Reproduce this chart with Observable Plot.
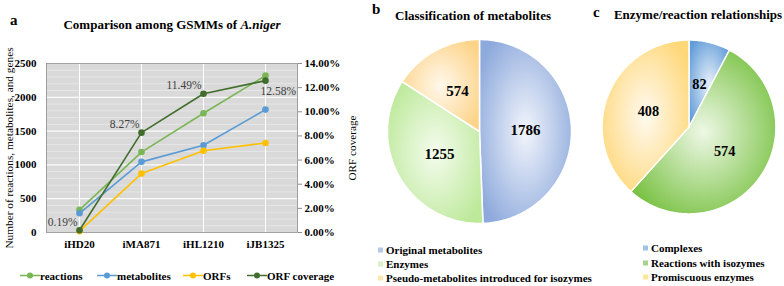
<!DOCTYPE html>
<html><head><meta charset="utf-8">
<script src="https://cdn.jsdelivr.net/npm/d3@7"></script>
<script src="https://cdn.jsdelivr.net/npm/@observablehq/plot@0.6"></script>
<style>
body{margin:0;background:#fff;}
#root{position:relative;width:784px;height:286px;overflow:hidden;font-family:"Liberation Serif","Times New Roman",Tinos,"DejaVu Serif",serif;color:#000;}
#root *{font-family:"Liberation Serif","Times New Roman",Tinos,"DejaVu Serif",serif;}
.abs{position:absolute;white-space:nowrap;line-height:1;}
.ttl{font-weight:bold;font-size:13px;}
.pnl{font-weight:bold;font-size:15px;}
.leg{font-weight:bold;font-size:11px;}
.sq{display:inline-block;width:5px;height:5px;margin-right:3px;vertical-align:1px;}
.plot-wrap{position:absolute;}
</style></head><body><div id="root"></div>
<script>
// ---------- data ----------
const models = ["iHD20", "iMA871", "iHL1210", "iJB1325"];
const reactions = [335, 1190, 1764, 2320];
const metabolites = [284, 1045, 1290, 1818];
const orfs = [20, 871, 1210, 1325];
const orfCoverage = [0.19, 8.27, 11.49, 12.58]; // percent
const countTicks = [0, 500, 1000, 1500, 2000, 2500];
const coverageTicks = [0, 2, 4, 6, 8, 10, 12, 14];

const metaboliteClasses = ["Original metabolites", "Enzymes", "Pseudo-metabolites introduced for isozymes"];
const metaboliteCounts = [1786, 1255, 574];
const relationClasses = ["Complexes", "Reactions with isozymes", "Promiscuous enzymes"];
const relationCounts = [82, 574, 408];

const FONT = "'Liberation Serif', 'Times New Roman', Tinos, 'DejaVu Serif', serif";

// ---------- helpers ----------
const root = document.getElementById("root");
function addText(content, x, y, cls, anchor = "middle", html = false) {
  const d = document.createElement("div");
  d.className = "abs " + cls;
  d.style.left = x + "px"; d.style.top = y + "px";
  const tx = anchor === "middle" ? "-50%" : anchor === "end" ? "-100%" : "0";
  d.style.transform = `translate(${tx},-50%)`;
  if (html) d.innerHTML = content; else d.textContent = content;
  root.appendChild(d);
  return d;
}
function place(el, left, top) {
  const w = document.createElement("div");
  w.className = "plot-wrap";
  w.style.left = left + "px"; w.style.top = top + "px";
  w.appendChild(el);
  root.appendChild(w);
}

// ---------- panel a ----------
const covK = 2500 / 14;
const rows = models.map((m, i) => ({model: m, reactions: reactions[i], metabolites: metabolites[i], orfs: orfs[i], coverage: orfCoverage[i]}));
const seriesDefs = [
  {key: "reactions", label: "reactions", color: "#7ab655"},
  {key: "metabolites", label: "metabolites", color: "#5b9bd5"},
  {key: "orfs", label: "ORFs", color: "#ffc000"}
];
const covColor = "#416d2c";

const lineMarks = [];
for (const s of seriesDefs) {
  lineMarks.push(Plot.line(rows, {x: "model", y: s.key, stroke: s.color, strokeWidth: 1.6}));
  lineMarks.push(Plot.dot(rows, {x: "model", y: s.key, fill: s.color, r: 3.3}));
}
lineMarks.push(Plot.line(rows, {x: "model", y: d => d.coverage * covK, stroke: covColor, strokeWidth: 1.6}));
lineMarks.push(Plot.dot(rows, {x: "model", y: d => d.coverage * covK, fill: covColor, r: 3.3}));

const chartA = Plot.plot({
  width: 360, height: 215,
  marginTop: 23, marginBottom: 23, marginLeft: 46, marginRight: 63,
  style: {fontFamily: FONT, fontSize: "11px", color: "#000", background: "transparent", overflow: "visible"},
  x: {type: "point", domain: models, padding: 0.5},
  y: {domain: [0, 2500]},
  marks: [
    Plot.frame({fill: "#d9d9d9"}),
    Plot.gridY({ticks: d3.range(0, 2501, 100), stroke: "#fff", strokeOpacity: 0.6, strokeWidth: 0.6}),
    Plot.gridY({ticks: countTicks, stroke: "#fff", strokeOpacity: 1, strokeWidth: 1}),
    Plot.gridX({stroke: "#fff", strokeOpacity: 1, strokeWidth: 1}),
    Plot.frame({stroke: "#8c8c8c", strokeWidth: 0.8}),
    Plot.axisY({ticks: countTicks, tickSize: 0, tickPadding: 10, fontWeight: "bold", label: null, tickFormat: d => String(d)}),
    Plot.axisY({ticks: coverageTicks.map(v => v * covK), anchor: "right", tickSize: 4, tickPadding: 3, fontWeight: "bold", label: null, stroke: "#8c8c8c", tickFormat: d => (d / covK).toFixed(2) + "%"}),
    Plot.axisX({tickSize: 0, tickPadding: 8, fontWeight: "bold", label: null}),
    ...lineMarks,
    Plot.text(rows, {filter: (d, i) => i < 3, x: "model", y: d => d.coverage * covK, text: d => d.coverage.toFixed(2) + "%", textAnchor: "end", dx: -2, dy: -8, fontSize: 11.5, fill: "#404040"}),
    Plot.text(rows, {filter: (d, i) => i === 3, x: "model", y: d => d.coverage * covK, text: d => d.coverage.toFixed(2) + "%", textAnchor: "start", dx: -5, dy: 11, fontSize: 11.5, fill: "#404040"}),
    Plot.text(["Number of reactions, metabolites, and genes"], {frameAnchor: "left", textAnchor: "middle", dx: -37, rotate: -90, text: d => d, fontSize: 11.3}),
    Plot.text(["ORF coverage"], {frameAnchor: "right", textAnchor: "middle", dx: 55, rotate: -90, text: d => d, fontSize: 11.2})
  ]
});
place(chartA, 0, 40);

addText("a", 10, 20, "pnl", "start");
addText("Comparison among GSMMs of <i>A.niger</i>", 172, 24, "ttl", "middle", true);

// legend a
const legItems = [...seriesDefs.map(s => ({label: s.label, color: s.color})), {label: "ORF coverage", color: covColor}];
const legX = [20, 97, 183, 247];
legItems.forEach((it, i) => {
  const d = addText("", legX[i], 276, "leg", "start");
  d.innerHTML = `<svg width="20" height="8" style="vertical-align:0px;margin-right:0px"><line x1="0" x2="20" y1="4" y2="4" stroke="${it.color}" stroke-width="1.6"/><circle cx="10" cy="4" r="3" fill="${it.color}"/></svg>` + it.label;
});

// ---------- pies ----------
function pieChart(names, counts, colors, id, r, labelR) {
  const arcs = d3.pie().sort(null).value(d => d)(counts);
  const slices = arcs.map((a, i) => {
    const pts = [[0, 0]];
    const n = Math.max(2, Math.ceil((a.endAngle - a.startAngle) / (Math.PI / 180)));
    for (let k = 0; k <= n; k++) {
      const t = a.startAngle + (a.endAngle - a.startAngle) * k / n;
      pts.push([Math.sin(t), -Math.cos(t)]);
    }
    pts.push([0, 0]);
    return {type: "Feature", properties: {name: names[i], value: counts[i], mid: (a.startAngle + a.endAngle) / 2},
      geometry: {type: "Polygon", coordinates: [pts]}};
  });
  const W = 200, H = 200;
  const outline = {type: "Polygon", coordinates: [d3.range(0, 361, 2).map(d => [Math.sin(d * Math.PI / 180), -Math.cos(d * Math.PI / 180)])]};
  const proj = d3.geoIdentity().fitExtent([[W / 2 - r, H / 2 - r], [W / 2 + r, H / 2 + r]], outline);
  const svg = Plot.plot({
    width: W, height: H, margin: 0,
    projection: proj,
    style: {fontFamily: FONT, background: "transparent", overflow: "visible"},
    marks: [
      ...slices.map((s, i) => Plot.geo([s], {fill: `url(#${id}${i})`, stroke: "#fff", strokeWidth: 1.5})),
      Plot.text(slices, {x: d => Math.sin(d.properties.mid) * labelR, y: d => -Math.cos(d.properties.mid) * labelR,
        text: d => String(d.properties.value), fontWeight: "bold", fontSize: 15, fill: "#000"})
    ]
  });
  const defs = d3.select(svg).insert("defs", ":first-child");
  colors.forEach(([c0, c1], i) => {
    const g = defs.append("radialGradient").attr("id", id + i).attr("cx", "50%").attr("cy", "50%").attr("r", "60%");
    g.append("stop").attr("offset", "0%").attr("stop-color", c0);
    g.append("stop").attr("offset", "100%").attr("stop-color", c1);
  });
  return svg;
}

const pieB = pieChart(metaboliteClasses, metaboliteCounts,
  [["#f2f5fc", "#8eaadc"], ["#f4fcee", "#bde99a"], ["#fff8ec", "#fdd388"]], "gb", 92, 0.5);
place(pieB, 379, 31);
const pieC = pieChart(relationClasses, relationCounts,
  [["#e6eff9", "#639dd9"], ["#eef8e6", "#78c142"], ["#fffaf0", "#fed778"]], "gc", 91, 0.5);
place(pieC, 593, 31);

addText("b", 372, 9, "pnl", "start");
addText("Classification of metabolites", 473, 15, "ttl", "middle");
addText("c", 593, 12, "pnl", "start");
addText("Enzyme/reaction relationships", 698, 14, "ttl", "middle");

// pie legends
const legBColors = ["#b4c7e7", "#d9f2c4", "#ffe6ad"];
const legBY = [250, 264, 277.5];
metaboliteClasses.forEach((n, i) => {
  const d = addText("", 378, legBY[i], "leg", "start");
  d.innerHTML = `<span class="sq" style="background:${legBColors[i]}"></span>` + n;
});
const legCColors = ["#9dc3e6", "#a9d18e", "#ffe699"];
const legCY = [248, 262.5, 277];
relationClasses.forEach((n, i) => {
  const d = addText("", 643, legCY[i], "leg", "start");
  d.innerHTML = `<span class="sq" style="background:${legCColors[i]}"></span>` + n;
});
</script></body></html>
